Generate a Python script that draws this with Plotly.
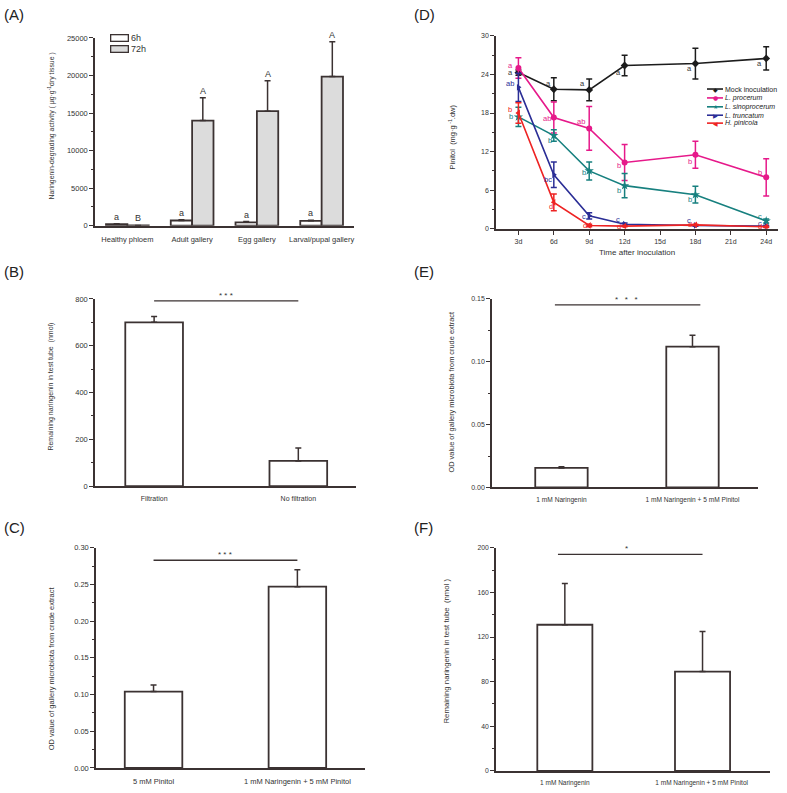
import plotly.graph_objects as go

W, H = 787, 793

# ---------------- DATA ----------------
# Panel A
a_cats = ["Healthy phloem", "Adult gallery", "Egg gallery", "Larval/pupal gallery"]
a_6h = [200, 700, 450, 650]
a_6h_err = [60, 100, 110, 90]
a_72h = [50, 14000, 15250, 19850]
a_72h_err = [0, 3050, 4050, 4650]
a_6h_letters = ["a", "a", "a", "a"]
a_72h_letters = ["B", "A", "A", "A"]

# Panel D
d_days = [3, 6, 9, 12, 18, 24]
d_ticks = [3, 6, 9, 12, 15, 18, 21, 24]
d_ticktext = ["3d", "6d", "9d", "12d", "15d", "18d", "21d", "24d"]
d_names = ["Mock inoculation", "L. procerum", "L. sinoprocerum", "L. truncatum", "H. pinicola"]
d_mock = [24.3, 21.7, 21.6, 25.4, 25.7, 26.5]
d_mock_err = [0.4, 1.8, 1.7, 1.6, 2.4, 1.8]
d_proc = [25.0, 17.3, 15.6, 10.3, 11.5, 8.0]
d_proc_err = [1.6, 2.4, 3.4, 2.8, 2.1, 2.9]
d_sino = [17.4, 14.5, 9.0, 6.7, 5.3, 1.2]
d_sino_err = [1.5, 0.9, 1.4, 1.9, 1.3, 0.3]
d_trunc = [22.0, 8.4, 2.0, 0.7, 0.5, 0.4]
d_trunc_err = [2.2, 2.0, 0.5, 0.2, 0.1, 0.1]
d_pini = [18.0, 4.1, 0.5, 0.4, 0.6, 0.3]
d_pini_err = [1.6, 1.3, 0.2, 0.1, 0.1, 0.1]
d_mock_let = ["a", "a", "a", "a", "a", "a"]
d_proc_let = ["a", "ab", "ab", "b", "b", "b"]
d_sino_let = ["b", "b", "b", "b", "b", "c"]
d_trunc_let = ["ab", "bc", "c", "c", "c", "c"]
d_pini_let = ["b", "d", "d", "d", "d", "d"]

# Panel B
b_cats = ["Filtration", "No filtration"]
b_vals = [700, 108]
b_err = [25, 55]
b_sig = "* * *"

# Panel E
e_cats = ["1 mM Naringenin", "1 mM Naringenin + 5 mM Pinitol"]
e_vals = [0.0155, 0.112]
e_err = [0.001, 0.009]
e_sig = "*   *   *"

# Panel C
c_cats = ["5 mM Pinitol", "1 mM Naringenin + 5 mM Pinitol"]
c_vals = [0.104, 0.247]
c_err = [0.009, 0.023]
c_sig = "* * *"

# Panel F
f_cats = ["1 mM Naringenin", "1 mM Naringenin + 5 mM Pinitol "]
f_vals = [131, 89]
f_err = [37, 36]
f_sig = "*"

# ---------------- STYLE ----------------
AX = "#3b3232"
TXT = "#333333"
FONT = "Liberation Sans, Arial, sans-serif"
COLORS = ["#1c1c1c", "#E6198A", "#17807F", "#2B2E96", "#EE2323"]
SYMBOLS = ["diamond", "circle", "star", "triangle-right", "triangle-left"]
GLYPHS = ["\u25C6", "\u25CF", "\u2605", "\u25B6", "\u25C0"]


def fx(p):
    return p / W


def fy(p):
    return 1 - p / H


def yax(top, bot, rng, dtick, mdtick, anchor, fmt=None, size=7.5):
    d = dict(domain=[fy(bot), fy(top)], range=rng, anchor=anchor,
             showline=True, linecolor=AX, linewidth=1.5,
             ticks="outside", ticklen=4, tickwidth=1.2, tickcolor=AX,
             tick0=0, dtick=dtick, showgrid=False, zeroline=False,
             tickfont=dict(size=size, color=TXT, family=FONT),
             minor=dict(ticks="outside", ticklen=2, tickwidth=1, tickcolor=AX,
                        tick0=0, dtick=mdtick))
    if fmt:
        d["tickformat"] = fmt
    return d


def xcat(left, right, rng, anchor, size=7.5):
    return dict(domain=[fx(left), fx(right)], range=rng, anchor=anchor, type="category",
                showline=True, linecolor=AX, linewidth=1.5,
                ticks="outside", ticklen=5, tickcolor="rgba(0,0,0,0)",
                showgrid=False, zeroline=False,
                tickfont=dict(size=size, color=TXT, family=FONT))


fig = go.Figure()

bar_line = dict(color=AX, width=1.8)


def err_up(arr):
    return dict(type="data", array=arr, arrayminus=[0] * len(arr), symmetric=False,
                color=AX, thickness=1.5, width=3)


# ---- Panel A ----
fig.add_trace(go.Bar(x=a_cats, y=a_6h, width=0.33, offset=-0.33, name="6h",
                     marker=dict(color="white", line=bar_line),
                     error_y=err_up(a_6h_err), xaxis="x", yaxis="y"))
fig.add_trace(go.Bar(x=a_cats, y=a_72h, width=0.33, offset=0.0, name="72h",
                     marker=dict(color="#DCDCDC", line=bar_line),
                     error_y=err_up(a_72h_err), xaxis="x", yaxis="y"))

# ---- Panel D ----
d_vals = [d_mock, d_proc, d_sino, d_trunc, d_pini]
d_errs = [d_mock_err, d_proc_err, d_sino_err, d_trunc_err, d_pini_err]
d_lets = [d_mock_let, d_proc_let, d_sino_let, d_trunc_let, d_pini_let]
for i, name in enumerate(d_names):
    fig.add_trace(go.Scatter(x=d_days, y=d_vals[i], mode="lines+markers", name=name,
                             line=dict(color=COLORS[i], width=1.6),
                             marker=dict(symbol=SYMBOLS[i], size=6 if i != 2 else 7, color=COLORS[i]),
                             error_y=dict(type="data", array=d_errs[i], color=COLORS[i],
                                          thickness=1.5, width=3),
                             xaxis="x2", yaxis="y2"))

# ---- Bars B, E, C, F ----
panels = [("x3", "y3", b_cats, b_vals, b_err),
          ("x4", "y4", e_cats, e_vals, e_err),
          ("x5", "y5", c_cats, c_vals, c_err),
          ("x6", "y6", f_cats, f_vals, f_err)]
for xa, ya, cats, vals, errs in panels:
    fig.add_trace(go.Bar(x=cats, y=vals, width=0.4,
                         marker=dict(color="white", line=bar_line),
                         error_y=err_up(errs), xaxis=xa, yaxis=ya))

annotations = []
shapes = []

# Panel A letters
for i in range(len(a_cats)):
    annotations.append(dict(x=i - 0.165, y=a_6h[i] + a_6h_err[i], xref="x", yref="y",
                            text=a_6h_letters[i], showarrow=False, yanchor="bottom",
                            font=dict(size=9, color=TXT, family=FONT)))
    annotations.append(dict(x=i + 0.165, y=a_72h[i] + a_72h_err[i], xref="x", yref="y",
                            text=a_72h_letters[i], showarrow=False, yanchor="bottom",
                            font=dict(size=9, color=TXT, family=FONT)))

# Panel A legend (boxes + labels)
for lab, col, yc in [("6h", "white", 34.5), ("72h", "#DCDCDC", 45.5)]:
    annotations.append(dict(x=fx(119.5), y=fy(yc), xref="paper", yref="paper", text=" ",
                            showarrow=False, width=14, height=3, borderpad=1,
                            bgcolor=col, bordercolor=AX, borderwidth=1.3,
                            font=dict(size=1), xanchor="center", yanchor="middle"))
    annotations.append(dict(x=fx(129), y=fy(yc), xref="paper", yref="paper", text=lab,
                            showarrow=False, xanchor="left", yanchor="middle",
                            font=dict(size=9, color=TXT, family=FONT)))

# Panel D letters
d_offsets = [
    [(-3, 0), (-1, 6), (-2, 6), (-1.5, -7), (-1.5, -5), (-2, -5)],
    [(-3.5, 3), (-1, -1), (-2, 7), (-2, -3), (-1.5, -7), (-2.5, 5)],
    [(-3, 0), (0, -5), (-1.5, -2), (-2, -5), (-1, -5), (-2, 5)],
    [(-2, 4), (0, -5), (-1, -1), (-3, 5), (-2, 5), (-2.5, 3)],
    [(-4, 4), (1, -4), (-0.5, 0), (-2, 0), (-1, 0), (-2, 0)],
]
for i in range(len(d_names)):
    for j, day in enumerate(d_days):
        dx, dy = d_offsets[i][j]
        annotations.append(dict(x=day, y=d_vals[i][j], xref="x2", yref="y2",
                                text=d_lets[i][j], showarrow=False,
                                xanchor="right", yanchor="middle", xshift=dx, yshift=dy,
                                font=dict(size=7.5, color=COLORS[i] if i else TXT, family=FONT)))

# Panel D legend: line sample + marker glyph + label
leg_y = [86, 95, 104, 112.5, 120.5]
for i, name in enumerate(d_names):
    lab = name if i == 0 else "<i>%s</i>" % name
    shapes.append(dict(type="line", xref="paper", yref="paper",
                       x0=fx(707), x1=fx(723), y0=fy(leg_y[i]), y1=fy(leg_y[i]),
                       line=dict(color=COLORS[i], width=1.6)))
    annotations.append(dict(x=fx(715), y=fy(leg_y[i]), xref="paper", yref="paper",
                            text=GLYPHS[i], showarrow=False, xanchor="center", yanchor="middle",
                            borderpad=0, font=dict(size=6, color=COLORS[i], family="DejaVu Sans")))
    annotations.append(dict(x=fx(724), y=fy(leg_y[i]), xref="paper", yref="paper",
                            text=lab, showarrow=False, xanchor="left", yanchor="middle",
                            borderpad=0, font=dict(size=7, color="#222", family=FONT)))

# Significance lines
sig = [("x3", "y3", 0, 1, 792, b_sig, 0.5),
       ("x4", "y4", -0.05, 1.06, 0.1453, e_sig, 0.5),
       ("x5", "y5", 0, 1, 0.283, c_sig, 0.5),
       ("x6", "y6", -0.05, 1.0, 194, f_sig, 0.45)]
for xa, ya, x0, x1, yv, txt, xm in sig:
    shapes.append(dict(type="line", xref=xa, yref=ya, x0=x0, x1=x1, y0=yv, y1=yv,
                       line=dict(color=AX, width=1.3)))
    annotations.append(dict(x=xm, y=yv, xref=xa, yref=ya, text=txt, showarrow=False,
                            yanchor="bottom", yshift=-1,
                            font=dict(size=8, color=TXT, family=FONT)))

# Panel labels
for lab, x, y in [("(A)", 2, 11), ("(D)", 412, 11), ("(B)", 2, 271),
                  ("(E)", 412, 271), ("(C)", 2, 530), ("(F)", 412, 530)]:
    annotations.append(dict(x=fx(x), y=fy(y), xref="paper", yref="paper", text=lab,
                            showarrow=False, xanchor="left", yanchor="middle",
                            font=dict(size=15, color="#222", family=FONT)))

# Axis titles
titles = [
    ("Naringenin-degrading activity ( \u03bcg\u00b7g<sup>-1</sup>dry tissue )", 52, 124, 6.9),
    ("Pinitol  (mg\u00b7g<sup> -1</sup>.dw)", 452, 135, 7.5),
    ("Remaining naringenin in test tube  (nmol)", 51, 387, 7.0),
    ("OD value of gallery microbiota from crude extract", 452, 393, 7.4),
    ("OD value of gallery microbiota from crude extract", 51, 672, 7.5),
    ("Remaining naringenin in test tube  (nmol )", 447, 654, 7.8),
]
for txt, x, y, s in titles:
    annotations.append(dict(x=fx(x), y=fy(y), xref="paper", yref="paper", text=txt,
                            textangle=-90, showarrow=False, xanchor="center", yanchor="middle",
                            font=dict(size=s, color=TXT, family=FONT)))
annotations.append(dict(x=fx(637), y=fy(251), xref="paper", yref="paper",
                        text="Time after inoculation", showarrow=False,
                        xanchor="center", yanchor="middle",
                        font=dict(size=8, color=TXT, family=FONT)))

layout = dict(
    width=W, height=H, margin=dict(l=0, r=0, t=0, b=0),
    paper_bgcolor="white", plot_bgcolor="white", showlegend=False,
    barmode="overlay", font=dict(family=FONT, color=TXT),
    annotations=annotations, shapes=shapes,
    # A
    xaxis=xcat(95, 354, [-0.5, 3.5], "y", size=7.5),
    yaxis=yax(34.3, 224.3, [0, 25000], 5000, 2500, "x", fmt="d", size=7.5),
    # D
    xaxis2=dict(domain=[fx(496), fx(778)], range=[1.1, 25], anchor="y2",
                showline=True, linecolor=AX, linewidth=1.5, ticks="outside", ticklen=5,
                tickwidth=1.2, tickcolor=AX, tickvals=d_ticks, ticktext=d_ticktext,
                showgrid=False, zeroline=False,
                tickfont=dict(size=7, color=TXT, family=FONT)),
    yaxis2=yax(32.3, 227.3, [0, 30], 6, 3, "x2", size=7),
    # B
    xaxis3=xcat(95, 356, [-0.41, 1.40], "y3", size=7),
    yaxis3=yax(298.3, 487.7, [0, 800], 200, 100, "x3", size=7.5),
    # E
    xaxis4=xcat(492, 758, [-0.53, 1.50], "y4", size=6.6),
    yaxis4=yax(298.3, 489, [0, 0.15], 0.05, 0.025, "x4", fmt=".2f", size=7),
    # C
    xaxis5=xcat(96, 365, [-0.40, 1.47], "y5", size=7.5),
    yaxis5=yax(550, 772.7, [0, 0.30], 0.05, 0.025, "x5", fmt=".2f", size=7.5),
    # F
    xaxis6=xcat(496, 770, [-0.50, 1.49], "y6", size=6.5),
    yaxis6=yax(550, 775.7, [0, 200], 40, 20, "x6", size=6.8),
)
fig.update_layout(**layout)
fig.write_html("out.html", config={"displayModeBar": False},
               post_script="document.body.style.margin='0';document.body.style.padding='0';")
